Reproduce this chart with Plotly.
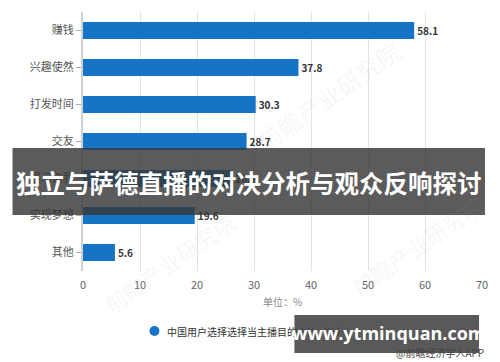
import plotly.graph_objects as go

categories = ["赚钱", "兴趣使然", "打发时间", "交友", "展示自我", "实现梦想", "其他"]
values = [58.1, 37.8, 30.3, 28.7, 26.2, 19.6, 5.6]
x_ticks = [0, 10, 20, 30, 40, 50, 60, 70]
legend_visible = "中国用户选择选择当主播目的"
legend_hidden = "占比（%）"
banner_title = "独立与萨德直播的对决分析与观众反响探讨"
site_text = "www.ytminquan.com"
source_text = "@前瞻经济学人APP"
unit_text = "单位：%"

W, H = 500, 362
L, R, T, B = 83, 15, 12, 91
pw, ph = W - L - R, H - T - B


def px(x):
    return (x - L) / pw


def py(y):
    return (H - B - y) / ph


fig = go.Figure()
fig.add_trace(go.Bar(
    y=categories, x=values, orientation="h",
    marker=dict(color="#1773c5", line=dict(width=0)),
    text=[f"<b>{v:.1f}</b>" for v in values],
    textposition="outside", cliponaxis=False,
    textfont=dict(size=10, color="#333333", family="Noto Sans CJK SC"),
    showlegend=False,
))

CJK = "Noto Sans CJK SC"
shapes = []
annotations = []


def ann(x, y, text, size, color, family=CJK, xanchor="center", angle=0):
    annotations.append(dict(x=px(x), y=py(y), xref="paper", yref="paper",
                            text=text, showarrow=False, textangle=angle,
                            xanchor=xanchor, yanchor="middle",
                            font=dict(size=size, color=color, family=family)))


# faint watermarks
for (wx, wy, s) in [(330, 95, 24), (170, 262, 22), (420, 245, 22)]:
    ann(wx, wy, "前瞻产业研究院", s, "rgba(150,165,190,0.10)", angle=-35)

# legend
shapes.append(dict(type="circle", xref="paper", yref="paper",
                   xsizemode="pixel", ysizemode="pixel",
                   xanchor=px(155), yanchor=py(331),
                   x0=-5, x1=5, y0=-5, y1=5,
                   fillcolor="#1773c5", line=dict(width=0)))
ann(166, 331, legend_visible + f"<span style='color:#3c3c3c'>{legend_hidden}</span>",
    10, "#333333", xanchor="left")
ann(284, 301, unit_text, 10, "#888888")

# banners
shapes.append(dict(type="rect", xref="paper", yref="paper", layer="above",
                   x0=px(12), x1=px(488), y0=py(148), y1=py(215),
                   fillcolor="rgba(55,55,55,0.82)", line=dict(width=0)))
ann(250, 182, f"<b>{banner_title}</b>", 24.5, "#ffffff")
shapes.append(dict(type="rect", xref="paper", yref="paper", layer="above",
                   x0=px(296), x1=px(482), y0=py(315), y1=py(353),
                   fillcolor="rgba(60,60,60,0.85)", line=dict(width=0)))
ann(391, 333, f"<b>{site_text}</b>", 18, "#ffffff", family="Open Sans")
ann(489, 352, source_text, 10, "#444444", xanchor="right")

fig.update_layout(
    width=W, height=H,
    margin=dict(l=L, r=R, t=T, b=B),
    paper_bgcolor="white", plot_bgcolor="white",
    bargap=0.54,
    shapes=shapes, annotations=annotations,
    xaxis=dict(range=[0, 70], tickvals=x_ticks, showgrid=True,
               gridcolor="#e3e3e3", gridwidth=1, zeroline=False,
               tickfont=dict(size=11, color="#666666", family=CJK),
               ticks="", ticklabelstandoff=6, fixedrange=True),
    yaxis=dict(categoryorder="array", categoryarray=categories[::-1],
               showline=True, linecolor="#d0d0d0", linewidth=2,
               ticks="outside", ticklen=5, tickcolor="#aaaaaa",
               tickfont=dict(size=11, color="#555555", family=CJK),
               fixedrange=True),
    font=dict(family=CJK),
)

fig.write_html("out.html")
